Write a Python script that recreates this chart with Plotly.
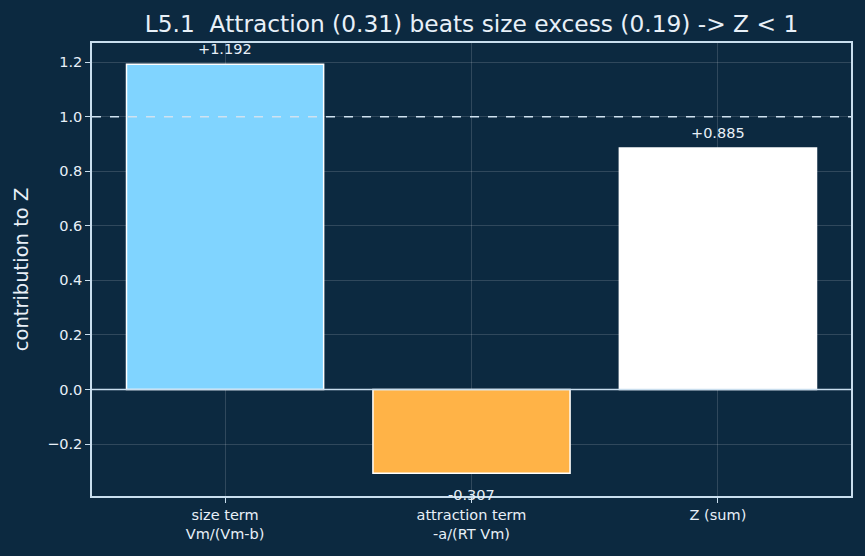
import plotly.graph_objects as go

categories = ["size term<br>Vm/(Vm-b)", "attraction term<br>-a/(RT Vm)", "Z (sum)"]
values = [1.192, -0.307, 0.885]
labels = ["+1.192", "-0.307", "+0.885"]
colors = ["#80d4ff", "#ffb347", "#ffffff"]
ref_line = 1.0
y_ticks = [-0.2, 0.0, 0.2, 0.4, 0.6, 0.8, 1.0, 1.2]

BG = "#0c2940"
FG = "#e8f0f8"
SPINE = "#c9deee"
FONT = "DejaVu Sans"

xs = list(range(len(categories)))

fig = go.Figure()
fig.add_trace(go.Bar(
    x=xs, y=values, width=0.8,
    marker=dict(color=colors, line=dict(color="#ffffff", width=1.5)),
    showlegend=False, hoverinfo="skip",
))

for xi, v, lab in zip(xs, values, labels):
    fig.add_annotation(
        x=xi, y=v, text=lab, showarrow=False,
        yshift=15 if v >= 0 else -22,
        font=dict(family=FONT, size=14.5, color=FG),
    )

fig.add_hline(y=ref_line, line=dict(color="#d0e2f0", width=1.5, dash="dash"))
fig.add_hline(y=0, line=dict(color="#c9deee", width=1.4))

fig.update_layout(
    width=865, height=556,
    paper_bgcolor=BG, plot_bgcolor=BG,
    margin=dict(l=92, r=14, t=43, b=60),
    font=dict(family=FONT, color=FG, size=14.5),
    title=dict(
        text="L5.1  Attraction (0.31) beats size excess (0.19) -> Z < 1",
        x=(92 + 851) / 2 / 865, xanchor="center", y=1 - 24 / 556, yanchor="middle",
        font=dict(family=FONT, size=23.3, color=FG),
    ),
    bargap=0.2,
)

fig.update_xaxes(
    range=[-0.54, 2.54],
    tickmode="array", tickvals=xs, ticktext=categories,
    showgrid=True, gridcolor="rgba(255,255,255,0.15)", gridwidth=1,
    showline=True, linecolor=SPINE, linewidth=1.5, mirror=True,
    ticks="outside", ticklen=5, tickcolor=SPINE, tickwidth=1.2,
    tickfont=dict(family=FONT, size=14.5, color=FG),
    zeroline=False,
)
fig.update_yaxes(
    range=[-0.39, 1.27],
    tickmode="array", tickvals=y_ticks, ticktext=[("−" if t < 0 else "") + f"{abs(t):.1f}" for t in y_ticks],
    showgrid=True, gridcolor="rgba(255,255,255,0.15)", gridwidth=1,
    showline=True, linecolor=SPINE, linewidth=1.5, mirror=True,
    ticks="outside", ticklen=5, tickcolor=SPINE, tickwidth=1.2,
    tickfont=dict(family=FONT, size=14.5, color=FG),
    zeroline=False,
    title=dict(text="contribution to Z", font=dict(family=FONT, size=19.5, color=FG), standoff=13),
)

fig.write_html("out.html")
